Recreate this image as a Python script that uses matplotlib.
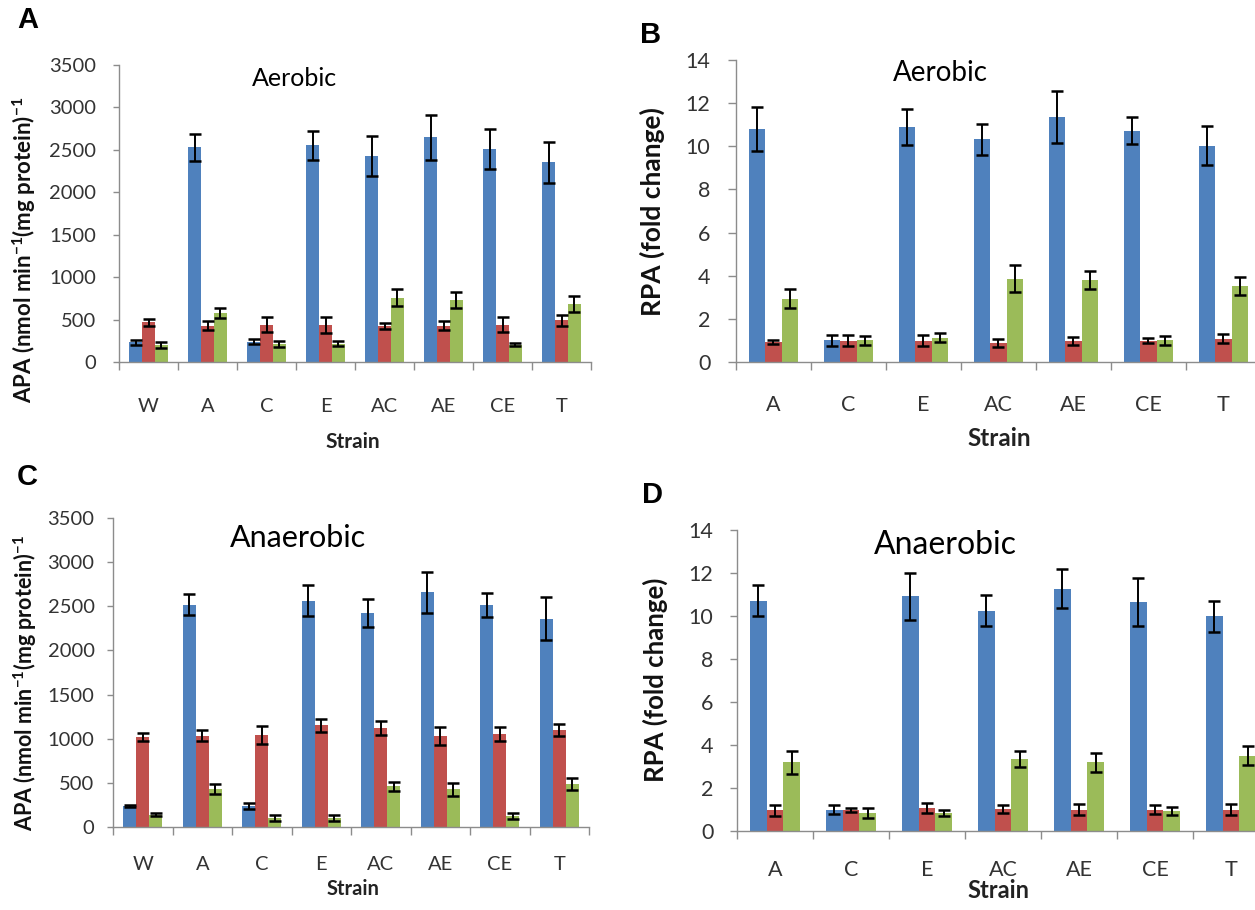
import matplotlib
matplotlib.use('Agg')
import matplotlib.pyplot as plt
import numpy as np

# ---------------- data ----------------
strains_apa = ['W', 'A', 'C', 'E', 'AC', 'AE', 'CE', 'T']
strains_rpa = ['A', 'C', 'E', 'AC', 'AE', 'CE', 'T']

# Panel A: aerobic APA
aer_apa_blue = [230, 2530, 240, 2555, 2425, 2650, 2515, 2355]
aer_apa_blue_err = [30, 160, 30, 170, 235, 265, 235, 240]
aer_apa_red = [470, 430, 440, 440, 420, 430, 440, 490]
aer_apa_red_err = [40, 50, 90, 95, 35, 50, 88, 62]
aer_apa_green = [200, 578, 212, 216, 755, 735, 204, 688]
aer_apa_green_err = [35, 60, 30, 30, 100, 95, 15, 93]

# Panel B: aerobic RPA
aer_rpa_blue = [10.79, 1.0, 10.91, 10.33, 11.35, 10.73, 10.03]
aer_rpa_blue_err = [1.03, 0.25, 0.84, 0.72, 1.2, 0.64, 0.92]
aer_rpa_red = [0.93, 0.98, 0.98, 0.88, 0.98, 0.98, 1.08]
aer_rpa_red_err = [0.1, 0.25, 0.25, 0.2, 0.2, 0.12, 0.2]
aer_rpa_green = [2.94, 1.0, 1.13, 3.87, 3.79, 1.0, 3.51]
aer_rpa_green_err = [0.44, 0.22, 0.2, 0.62, 0.41, 0.22, 0.41]

# Panel C: anaerobic APA
ana_apa_blue = [238, 2520, 238, 2565, 2422, 2659, 2520, 2357]
ana_apa_blue_err = [12, 120, 32, 175, 155, 230, 136, 243]
ana_apa_red = [1018, 1034, 1041, 1150, 1120, 1034, 1049, 1094]
ana_apa_red_err = [47, 62, 100, 75, 75, 100, 80, 68]
ana_apa_green = [140, 434, 102, 102, 460, 426, 124, 490]
ana_apa_green_err = [15, 56, 38, 38, 47, 73, 35, 66]

# Panel D: anaerobic RPA
ana_rpa_blue = [10.71, 0.99, 10.91, 10.25, 11.27, 10.65, 9.98]
ana_rpa_blue_err = [0.71, 0.22, 1.1, 0.73, 0.9, 1.1, 0.73]
ana_rpa_red = [0.96, 0.99, 1.08, 1.03, 0.99, 0.99, 1.0]
ana_rpa_red_err = [0.25, 0.09, 0.23, 0.18, 0.25, 0.2, 0.24]
ana_rpa_green = [3.19, 0.83, 0.83, 3.35, 3.19, 0.93, 3.5]
ana_rpa_green_err = [0.52, 0.22, 0.15, 0.39, 0.43, 0.17, 0.45]

apa_label = r"APA (nmol min$^{\mathbf{-1}}$(mg protein)$^{\mathbf{-1}}$"
rpa_label = "RPA (fold change)"

# ---------------- style ----------------
plt.rcParams['font.family'] = ['Lato', 'DejaVu Sans']
plt.rcParams['mathtext.fontset'] = 'custom'
plt.rcParams['mathtext.rm'] = 'Lato'
plt.rcParams['mathtext.bf'] = 'Lato:bold'
plt.rcParams['mathtext.it'] = 'Lato:italic'

COLORS = ['#4F81BD', '#C0504D', '#9BBB59']
GRAY = '#8C8C8C'
TXT = '#333333'

W, H = 1255, 910
fig = plt.figure(figsize=(W / 100, H / 100), dpi=100)


def rect(left, top, right, bottom):
    return [left / W, 1 - bottom / H, (right - left) / W, (bottom - top) / H]


def ftext(x, y, s, **kw):
    fig.text(x / W, 1 - y / H, s, ha='center', va='center', **kw)


def panel(r, cats, vals, errs, ymax, ystep, tick_fs, xpad, ypad, ytl):
    ax = fig.add_axes(r)
    n = len(cats)
    x = np.arange(n) + 0.5
    w = 0.22
    for k, (v, e) in enumerate(zip(vals, errs)):
        ax.bar(x + (k - 1) * w, v, width=w, color=COLORS[k], yerr=e,
               error_kw=dict(ecolor='black', elinewidth=1.4, capsize=4.5,
                             capthick=1.8), zorder=2)
    ax.set_xlim(0, n)
    ax.set_ylim(0, ymax)
    ax.set_yticks(np.arange(0, ymax + ystep / 2, ystep))
    ax.set_xticks(x)
    ax.set_xticklabels(cats)
    ax.set_xticks(np.arange(n + 1), minor=True)
    for s in ['top', 'right']:
        ax.spines[s].set_visible(False)
    for s in ['left', 'bottom']:
        ax.spines[s].set_color(GRAY)
        ax.spines[s].set_linewidth(1.0)
    ax.tick_params(axis='x', which='major', length=0, pad=xpad,
                   labelsize=tick_fs, labelcolor=TXT)
    ax.tick_params(axis='x', which='minor', length=5.5, direction='out',
                   color=GRAY, width=1.0)
    ax.tick_params(axis='y', which='major', length=ytl, direction='out',
                   color=GRAY, width=1.0, pad=ypad, labelsize=tick_fs,
                   labelcolor=TXT)
    return ax


axA = panel(rect(119, 65, 591, 362), strains_apa,
            [aer_apa_blue, aer_apa_red, aer_apa_green],
            [aer_apa_blue_err, aer_apa_red_err, aer_apa_green_err],
            3500, 500, 14.5, 26, 12, 4.3)
axB = panel(rect(736, 60, 1261, 362), strains_rpa,
            [aer_rpa_blue, aer_rpa_red, aer_rpa_green],
            [aer_rpa_blue_err, aer_rpa_red_err, aer_rpa_green_err],
            14, 2, 15.5, 24, 13, 5.5)
axC = panel(rect(113, 518, 589, 827), strains_apa,
            [ana_apa_blue, ana_apa_red, ana_apa_green],
            [ana_apa_blue_err, ana_apa_red_err, ana_apa_green_err],
            3500, 500, 14.5, 21, 9, 4.3)
axD = panel(rect(737, 530, 1269, 831), strains_rpa,
            [ana_rpa_blue, ana_rpa_red, ana_rpa_green],
            [ana_rpa_blue_err, ana_rpa_red_err, ana_rpa_green_err],
            14, 2, 15.5, 21, 12, 5.0)

# panel letters
for (x, y, s) in [(28, 20, 'A'), (651, 35, 'B'), (27, 477, 'C'), (652, 495, 'D')]:
    ftext(x, y, s, fontsize=21, fontweight='bold', family='Liberation Sans')

# titles
ftext(294, 78, 'Aerobic', fontsize=18, color='black')
ftext(940, 73, 'Aerobic', fontsize=20, color='black')
ftext(298, 538, 'Anaerobic', fontsize=22, color='black')
ftext(945, 545, 'Anaerobic', fontsize=23, color='black')

# y labels
ftext(24, 250, apa_label, fontsize=16, fontweight='bold', rotation=90, color='#111111')
ftext(652, 212, rpa_label, fontsize=19, fontweight='bold', rotation=90, color='#111111')
ftext(25, 683, apa_label, fontsize=15.5, fontweight='bold', rotation=90, color='#111111')
ftext(655, 680, rpa_label, fontsize=18.5, fontweight='bold', rotation=90, color='#111111')

# x labels
ftext(353, 442, 'Strain', fontsize=15, fontweight='bold', color='#222222')
ftext(999, 438, 'Strain', fontsize=17.5, fontweight='bold', color='#222222')
ftext(353, 889, 'Strain', fontsize=14.5, fontweight='bold', color='#222222')
ftext(998, 891, 'Strain', fontsize=17, fontweight='bold', color='#222222')

fig.savefig('out.png', dpi=100)
